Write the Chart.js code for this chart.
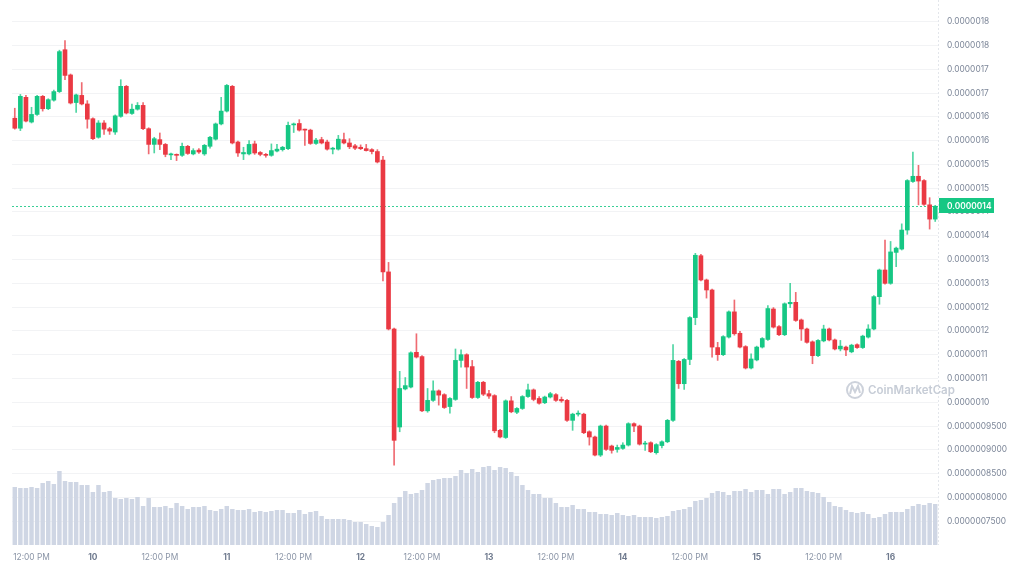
<!DOCTYPE html>
<html><head><meta charset="utf-8">
<script src="https://cdn.jsdelivr.net/npm/chart.js@4.4.1/dist/chart.umd.min.js"></script>
<style>html,body{margin:0;padding:0;background:#fff;}#wrap{width:1024px;height:578px;}</style>
</head><body><div id="wrap"><canvas id="c" width="1024" height="578"></canvas></div>
<script>
const PRICE_UNIT = 1e-6;
const open = [1.597,1.576,1.641,1.589,1.605,1.643,1.617,1.635,1.653,1.741,1.688,1.630,1.645,1.627,1.596,1.557,1.587,1.575,1.568,1.601,1.664,1.607,1.616,1.624,1.575,1.542,1.552,1.542,1.520,1.521,1.519,1.538,1.522,1.530,1.522,1.538,1.553,1.585,1.612,1.664,1.547,1.522,1.522,1.543,1.525,1.521,1.519,1.528,1.531,1.533,1.583,1.586,1.573,1.572,1.544,1.552,1.547,1.532,1.532,1.552,1.545,1.539,1.536,1.533,1.531,1.527,1.509,1.274,1.154,0.948,1.028,1.032,1.105,1.096,0.982,1.004,1.024,1.016,0.991,1.006,1.088,1.100,1.075,1.010,1.042,1.018,1.014,0.941,0.926,1.003,0.979,0.987,1.012,1.026,1.008,0.999,1.011,1.016,1.006,1.004,0.962,0.975,0.975,0.938,0.927,0.889,0.950,0.908,0.901,0.903,0.910,0.955,0.950,0.912,0.915,0.894,0.909,0.917,0.962,1.086,1.039,1.090,1.178,1.308,1.257,1.236,1.115,1.100,1.137,1.190,1.145,1.117,1.072,1.089,1.116,1.132,1.196,1.159,1.142,1.207,1.210,1.173,1.154,1.127,1.098,1.129,1.154,1.131,1.112,1.116,1.106,1.121,1.115,1.137,1.154,1.222,1.278,1.250,1.315,1.322,1.362,1.464,1.475,1.466,1.415,1.385];
const high = [1.618,1.647,1.645,1.620,1.645,1.645,1.638,1.656,1.740,1.760,1.690,1.648,1.672,1.634,1.598,1.592,1.592,1.578,1.604,1.678,1.666,1.627,1.630,1.630,1.577,1.557,1.566,1.544,1.524,1.522,1.545,1.540,1.533,1.533,1.542,1.559,1.587,1.641,1.668,1.666,1.549,1.536,1.550,1.549,1.527,1.523,1.543,1.542,1.538,1.589,1.587,1.594,1.574,1.574,1.555,1.557,1.551,1.536,1.561,1.566,1.554,1.542,1.541,1.542,1.533,1.531,1.517,1.294,1.156,1.065,1.052,1.106,1.144,1.098,1.029,1.045,1.026,1.018,1.010,1.112,1.110,1.102,1.088,1.044,1.044,1.025,1.016,0.943,1.005,1.012,0.989,1.014,1.038,1.028,1.012,1.013,1.021,1.018,1.011,1.006,0.977,0.982,0.977,0.940,0.929,0.952,0.952,0.910,0.910,0.915,0.957,0.957,0.952,0.918,0.917,0.913,0.919,0.964,1.121,1.088,1.092,1.180,1.313,1.311,1.259,1.238,1.126,1.140,1.192,1.215,1.149,1.119,1.102,1.118,1.136,1.203,1.199,1.161,1.209,1.250,1.231,1.175,1.156,1.129,1.132,1.162,1.156,1.133,1.130,1.118,1.122,1.123,1.141,1.163,1.224,1.280,1.341,1.338,1.326,1.375,1.468,1.526,1.498,1.468,1.430,1.414];
const low = [1.574,1.571,1.589,1.587,1.603,1.612,1.615,1.633,1.651,1.678,1.627,1.609,1.625,1.576,1.552,1.555,1.563,1.563,1.563,1.599,1.606,1.605,1.614,1.573,1.522,1.524,1.531,1.516,1.510,1.508,1.517,1.521,1.520,1.523,1.519,1.534,1.551,1.583,1.610,1.543,1.517,1.510,1.520,1.521,1.518,1.515,1.517,1.526,1.528,1.531,1.567,1.570,1.540,1.542,1.542,1.543,1.530,1.522,1.530,1.543,1.533,1.531,1.531,1.528,1.522,1.503,1.255,1.152,0.868,0.938,1.026,1.030,1.093,0.980,0.979,1.002,0.994,0.987,0.977,1.004,1.074,1.029,1.008,1.008,1.014,1.008,0.936,0.925,0.924,0.978,0.976,0.985,1.010,1.003,0.996,0.997,1.009,1.002,1.000,0.960,0.941,0.971,0.934,0.910,0.887,0.886,0.899,0.893,0.895,0.901,0.908,0.938,0.910,0.899,0.894,0.891,0.904,0.915,0.960,1.029,1.027,1.079,1.163,1.255,1.219,1.095,1.088,1.098,1.135,1.141,1.114,1.070,1.070,1.087,1.114,1.130,1.156,1.140,1.140,1.199,1.170,1.130,1.124,1.081,1.096,1.127,1.129,1.110,1.108,1.098,1.104,1.113,1.113,1.135,1.152,1.206,1.248,1.248,1.285,1.320,1.353,1.462,1.415,1.414,1.364,1.380];
const close = [1.576,1.643,1.591,1.605,1.643,1.617,1.636,1.653,1.737,1.687,1.629,1.646,1.627,1.595,1.554,1.587,1.574,1.570,1.602,1.664,1.608,1.616,1.624,1.575,1.542,1.554,1.542,1.521,1.521,1.519,1.538,1.523,1.529,1.526,1.540,1.557,1.585,1.612,1.666,1.545,1.524,1.525,1.542,1.524,1.521,1.519,1.529,1.532,1.536,1.582,1.585,1.572,1.572,1.544,1.551,1.545,1.532,1.534,1.553,1.545,1.537,1.534,1.533,1.529,1.527,1.505,1.274,1.154,0.920,1.029,1.035,1.104,1.095,0.982,1.004,1.024,1.015,0.989,1.008,1.088,1.100,1.074,1.010,1.042,1.017,1.013,0.940,0.927,1.003,0.980,0.987,1.012,1.026,1.006,0.998,1.011,1.018,1.004,1.003,0.962,0.975,0.977,0.936,0.927,0.889,0.950,0.901,0.899,0.905,0.910,0.955,0.950,0.912,0.914,0.896,0.911,0.917,0.962,1.088,1.039,1.090,1.178,1.309,1.257,1.236,1.116,1.100,1.138,1.190,1.144,1.116,1.072,1.091,1.116,1.134,1.197,1.158,1.142,1.207,1.210,1.172,1.154,1.126,1.098,1.130,1.154,1.131,1.112,1.118,1.110,1.120,1.115,1.139,1.154,1.222,1.278,1.250,1.316,1.324,1.362,1.466,1.475,1.465,1.416,1.385,1.412];
const volume = [58,57,57,58,57,62,64,61,74,64,63,63,60,60,53,60,53,54,47,46,47,46,48,39,47,38,38,39,37,42,39,36,38,38,39,35,34,36,39,36,35,35,36,33,34,33,34,35,35,32,32,35,31,33,34,29,26,26,26,26,25,23,23,21,19,18,23,30,42,48,54,51,52,55,62,65,66,67,67,69,75,72,76,73,78,79,75,78,77,73,69,60,55,51,51,47,47,42,38,38,40,36,36,33,33,31,31,30,32,30,29,30,28,28,28,27,28,29,34,35,36,38,44,45,47,52,54,53,50,54,54,56,53,55,55,51,56,56,51,53,57,57,54,53,52,48,43,39,38,35,33,32,33,31,27,28,31,33,33,33,36,39,41,40,42,41];
const priceTicks = [1.80,1.75,1.70,1.65,1.60,1.55,1.50,1.45,1.40,1.35,1.30,1.25,1.20,1.15,1.10,1.05,1.00,0.95,0.90,0.85,0.80,0.75];
const priceTickLabels = ['0.0000018','0.0000018','0.0000017','0.0000017','0.0000016','0.0000016','0.0000015','0.0000015','0.0000014','0.0000014','0.0000013','0.0000013','0.0000012','0.0000012','0.0000011','0.0000011','0.0000010','0.0000009500','0.0000009000','0.0000008500','0.0000008000','0.0000007500'];
const xTickIndex = [3,14,26,38,50,62,73,85,97,109,121,133,145,157];
const xTickLabels = ['12:00 PM','10','12:00 PM','11','12:00 PM','12','12:00 PM','13','12:00 PM','14','12:00 PM','15','12:00 PM','16'];

const GREEN = '#16c784', RED = '#ea3943';
const candles = open.map((o, i) => i);
const isUp = open.map((o, i) => close[i] >= o);
const bodyColors = isUp.map(u => u ? GREEN : RED);
const wickColors = isUp.map(u => u ? 'rgba(22,199,132,0.75)' : 'rgba(234,57,67,0.75)');
const wickData = low.map((l, i) => [l * PRICE_UNIT, high[i] * PRICE_UNIT]);
const bodyData = open.map((o, i) => [o * PRICE_UNIT, close[i] * PRICE_UNIT]);
const tickLabelFor = (i) => { const j = xTickIndex.indexOf(i); return j >= 0 ? xTickLabels[j] : ''; };
const FONT = 'Inter';

const overlay = {
  id: 'overlay',
  beforeDatasetsDraw(chart) {
    const ctx = chart.ctx, y = chart.scales.y, a = chart.chartArea;
    ctx.save();
    ctx.strokeStyle = '#e3e6eb'; ctx.lineWidth = 1; ctx.setLineDash([2, 2]);
    ctx.beginPath(); ctx.moveTo(Math.round(a.right) + 0.5, 0); ctx.lineTo(Math.round(a.right) + 0.5, a.bottom); ctx.stroke();
    ctx.setLineDash([]);
    ctx.strokeStyle = '#cdd2db'; ctx.lineWidth = 2;
    ctx.beginPath(); ctx.arc(855, 390, 8, 0, Math.PI * 2); ctx.stroke();
    ctx.beginPath(); ctx.moveTo(850, 394); ctx.lineTo(852, 386); ctx.lineTo(855, 392); ctx.lineTo(858, 386); ctx.lineTo(860, 393); ctx.stroke();
    ctx.fillStyle = '#c6ccd6'; ctx.font = '600 11.5px ' + FONT; ctx.textBaseline = 'middle';
    ctx.fillText('CoinMarketCap', 868, 391);
    const py = Math.round(y.getPixelForValue(close[close.length - 1] * PRICE_UNIT)) + 0.5;
    ctx.strokeStyle = 'rgba(22,199,132,0.85)'; ctx.lineWidth = 1; ctx.setLineDash([2, 2]);
    ctx.beginPath(); ctx.moveTo(a.left, py); ctx.lineTo(a.right, py); ctx.stroke();
    ctx.restore();
  },
  afterDraw(chart) {
    const ctx = chart.ctx, y = chart.scales.y, a = chart.chartArea;
    const last = close[close.length - 1] * PRICE_UNIT;
    const py = Math.round(y.getPixelForValue(last));
    ctx.save();
    ctx.fillStyle = GREEN;
    ctx.fillRect(a.right + 1, py - 8, 55, 15);
    ctx.fillStyle = '#ffffff'; ctx.font = '600 8.4px ' + FONT; ctx.textBaseline = 'middle';
    ctx.fillText(last.toFixed(7), a.right + 9, py);
    ctx.restore();
  }
};

new Chart(document.getElementById('c'), {
  data: {
    labels: candles,
    datasets: [
      { type: 'bar', label: 'Volume', yAxisID: 'yv', data: volume, backgroundColor: '#cfd6e4', barPercentage: 0.8, categoryPercentage: 1, grouped: false, order: 3 },
      { type: 'bar', label: 'Wick', yAxisID: 'y', data: wickData, backgroundColor: wickColors, barThickness: 1, grouped: false, order: 2 },
      { type: 'bar', label: 'Body', yAxisID: 'y', data: bodyData, backgroundColor: bodyColors, barThickness: 4, minBarLength: 1, grouped: false, order: 1 }
    ]
  },
  options: {
    responsive: false, animation: false, devicePixelRatio: 1,
    layout: { padding: { left: 12, top: 3, right: 0, bottom: 0 } },
    plugins: { legend: { display: false }, tooltip: { enabled: false } },
    scales: {
      x: {
        type: 'category', offset: true,
        grid: { display: false, drawTicks: false }, border: { display: false },
        ticks: {
          autoSkip: false, maxRotation: 0, minRotation: 0, padding: 7,
          callback: (v, i) => tickLabelFor(i),
          font: (c) => ({ family: FONT, size: 8.4, weight: /^\d+$/.test(c.tick && c.tick.label) ? 'bold' : 'normal' }),
          color: (c) => /^\d+$/.test(c.tick && c.tick.label) ? '#6f7a8e' : '#8a94a6'
        },
        afterFit: (s) => { s.height = 33; }
      },
      y: {
        position: 'right', min: 0.70 * PRICE_UNIT, max: 1.816 * PRICE_UNIT,
        grid: { color: '#f2f3f5', drawTicks: false },
        border: { display: false },
        afterBuildTicks: (s) => { s.ticks = priceTicks.map(v => ({ value: v * PRICE_UNIT })); },
        ticks: { padding: 9, font: { family: FONT, size: 8.4 }, color: '#7d8799', callback: (v, i) => priceTickLabels[i] },
        afterFit: (s) => { s.width = 86; }
      },
      yv: { display: false, min: 0, max: 531 }
    }
  },
  plugins: [overlay]
});
</script></body></html>
